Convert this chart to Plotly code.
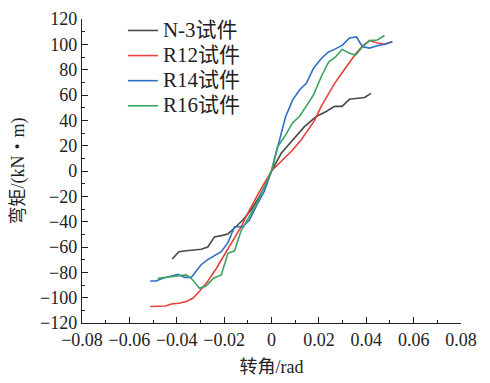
import plotly.graph_objects as go

# Data (rotation in rad, moment in kN·m)
n3_x = [-0.0419, -0.0391, -0.036, -0.0332, -0.0297, -0.0269, -0.0241, -0.0212, -0.0184, -0.0156,
        -0.0121, -0.0086, -0.0051, -0.0022, 0.0, 0.0041, 0.009, 0.0139, 0.0189, 0.0231, 0.0266,
        0.0298, 0.0329, 0.036, 0.0393, 0.042]
n3_y = [-69.5, -63.7, -63, -62.4, -61.8, -60, -52, -51, -49.7, -45, -38.7, -30.8, -20, -9.7, 0,
        14, 24.5, 35, 43, 47, 51, 51, 56.6, 57, 58, 61.3]

r12_x = [-0.0512, -0.048, -0.0447, -0.0423, -0.0391, -0.036, -0.0332, -0.0304, -0.0269, -0.0233,
         -0.0198, -0.0163, -0.0128, -0.0093, -0.0051, 0.0, 0.0047, 0.0089, 0.0125, 0.0157, 0.0182,
         0.021, 0.0237, 0.0266, 0.0298, 0.0329, 0.0357, 0.0388, 0.0414, 0.0447, 0.0477, 0.051]
r12_y = [-107, -106.6, -106.6, -105, -104.4, -103, -100.5, -95, -87, -77, -66, -54.5, -44, -30.8,
         -16.3, 0, 9, 16.6, 24.5, 33, 40, 51, 60, 69, 77.6, 86, 93, 99.4, 103, 101, 100, 102]

r14_x = [-0.0512, -0.0487, -0.0459, -0.0423, -0.0395, -0.0367, -0.0339, -0.0325, -0.0297, -0.0269,
         -0.0241, -0.0212, -0.0184, -0.0156, -0.0121, -0.0093, -0.0065, -0.003, 0.0, 0.0059, 0.0089,
         0.0118, 0.0148, 0.0177, 0.0211, 0.0241, 0.0266, 0.030, 0.0329, 0.0359, 0.0384, 0.0414,
         0.0443, 0.0477, 0.051]
r14_y = [-86.8, -86.8, -84.7, -82.9, -81.6, -84, -84, -80.8, -74, -70, -67, -63.7, -56.6, -44, -44,
         -38.7, -28, -16, 0, 42.6, 56, 64, 69.5, 81, 89, 94, 96, 99.4, 105, 105.8, 98, 97, 98.7,
         100, 102]

r16_x = [-0.048, -0.0444, -0.0402, -0.036, -0.0339, -0.0304, -0.0276, -0.0245, -0.0212, -0.0184,
         -0.0156, -0.0128, -0.01, -0.0065, -0.003, 0.0, 0.0025, 0.0055, 0.0089, 0.0118, 0.0146,
         0.0177, 0.021, 0.0241, 0.027, 0.0298, 0.0329, 0.0355, 0.0384, 0.0414, 0.0447, 0.0477]
r16_y = [-84.7, -84, -82.9, -82, -84.7, -92.6, -90.8, -84.7, -82, -65, -63, -47, -38, -26.8, -12.4,
         0, 19, 27, 38, 43, 51, 60, 74.4, 86, 90, 96, 93, 91.6, 98, 103, 103.4, 107]

names = ["N-3试件", "R12试件", "R14试件", "R16试件"]
colors = ["#4a4a4a", "#e8403c", "#2f6fc6", "#3ba462"]

x_ticks = [-0.08, -0.06, -0.04, -0.02, 0, 0.02, 0.04, 0.06, 0.08]
x_labels = ["−0.08", "−0.06", "−0.04", "−0.02", "0", "0.02", "0.04", "0.06", "0.08"]
y_ticks = [-120, -100, -80, -60, -40, -20, 0, 20, 40, 60, 80, 100, 120]
y_labels = ["−120", "−100", "−80", "−60", "−40", "−20", "0", "20", "40", "60", "80", "100", "120"]

FONT = "Liberation Serif, Times New Roman, Noto Sans CJK SC, serif"

fig = go.Figure()
for xs, ys, nm, c in zip([n3_x, r12_x, r14_x, r16_x], [n3_y, r12_y, r14_y, r16_y], names, colors):
    fig.add_trace(go.Scatter(x=xs, y=ys, mode="lines",
                             name='<span style="font-size:21px">' + nm + '</span>',
                             line=dict(color=c, width=1.6)))

fig.update_layout(
    width=490, height=383,
    margin=dict(l=82, r=29, t=19, b=60),
    paper_bgcolor="white", plot_bgcolor="white",
    font=dict(family=FONT, size=18, color="#222"),
    showlegend=True,
    legend=dict(x=0.108, y=1.02, xanchor="left", yanchor="top",
                bgcolor="rgba(0,0,0,0)", font=dict(size=17, family=FONT),
                tracegroupgap=0, itemwidth=30),
)
fig.update_xaxes(
    range=[-0.08, 0.08], tickvals=x_ticks, ticktext=x_labels, automargin=False,
    showline=True, linecolor="#222", linewidth=1.3, mirror=False,
    ticks="inside", ticklen=6, tickwidth=1.3, tickcolor="#222",
    minor=dict(ticks="inside", ticklen=3, tickwidth=1.2, tickcolor="#222", dtick=0.01),
    showgrid=False, zeroline=False,
    tickfont=dict(size=18, family=FONT),
    title=dict(text="转角/rad", font=dict(size=18, family=FONT), standoff=11),
)
fig.update_yaxes(
    range=[-120, 120], tickvals=y_ticks, ticktext=y_labels, automargin=False,
    showline=True, linecolor="#222", linewidth=1.3, mirror=False,
    ticks="inside", ticklen=6, tickwidth=1.3, tickcolor="#222",
    minor=dict(ticks="inside", ticklen=3, tickwidth=1.2, tickcolor="#222", dtick=10),
    showgrid=False, zeroline=False,
    tickfont=dict(size=18, family=FONT),
    title=dict(text="弯矩/(kN・m)", font=dict(size=18, family=FONT), standoff=10),
)

fig.write_html("out.html", config={"displayModeBar": False},
               post_script="document.body.style.margin='0';")
